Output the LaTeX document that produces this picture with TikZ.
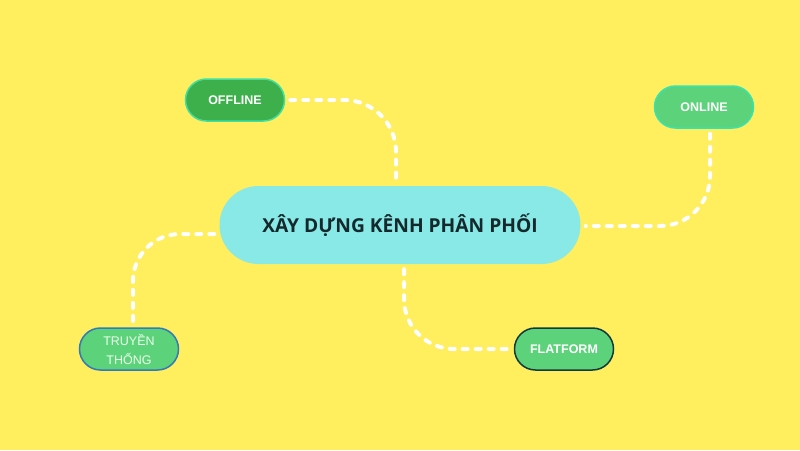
\documentclass[tikz,border=0pt]{standalone}
\usepackage{fontspec}
\setmainfont{Liberation Sans}
\newfontfamily\titlefont{Open Sans}[UprightFont={* Bold}]
\usetikzlibrary{shapes.misc}
\definecolor{bgyellow}{HTML}{FFEE5E}
\definecolor{cyanbox}{HTML}{88E9E6}
\definecolor{darkgreen}{HTML}{3DB04B}
\definecolor{midgreen}{HTML}{5CD27A}
\definecolor{titletext}{HTML}{15282C}
\tikzset{
  pill/.style={rounded rectangle, minimum width=99pt, minimum height=42pt, inner sep=0pt, line width=1.5pt, text=white, font=\bfseries\fontsize{12.5}{14}\selectfont},
  link/.style={draw=white, line width=4pt, line cap=round, dash pattern=on 5pt off 8pt, shorten <=5pt, shorten >=5pt}
}
\begin{document}
\begin{tikzpicture}[x=1pt,y=-1pt]
\fill[bgyellow] (0,0) rectangle (800,450);
\useasboundingbox (0,0) rectangle (800,450);
\node[rounded rectangle, fill=cyanbox, minimum width=361pt, minimum height=78pt, inner sep=0pt,
  text=titletext, font=\titlefont\fontsize{19.2}{21}\selectfont] (c) at (400,225) {XÂY DỰNG KÊNH PHÂN PHỐI};
\node[pill, fill=darkgreen, draw=midgreen!70!cyan] (off) at (235,100) {OFFLINE};
\node[pill, fill=midgreen, draw=midgreen!60!cyan] (on) at (704,107) {ONLINE};
\node[pill, fill=midgreen, draw=teal!70!blue!80, font=\fontsize{12.5}{19}\selectfont, text=white!92!green, align=center] (tr) at (129,349) {TRUYỀN\\THỐNG};
\node[pill, fill=midgreen, draw=titletext!80!teal] (fl) at (564,349) {FLATFORM};
\draw[link, rounded corners=52pt] (off.east) -| ([xshift=-4pt]c.north);
\draw[link, rounded corners=50pt] ([xshift=6pt]on.south) |- ([yshift=-1pt]c.east);
\draw[link, rounded corners=47pt] ([yshift=-9pt]c.west) -| ([xshift=4pt]tr.north);
\draw[link, rounded corners=50pt] ([xshift=4pt]c.south) |- (fl.west);
\end{tikzpicture}
\end{document}
